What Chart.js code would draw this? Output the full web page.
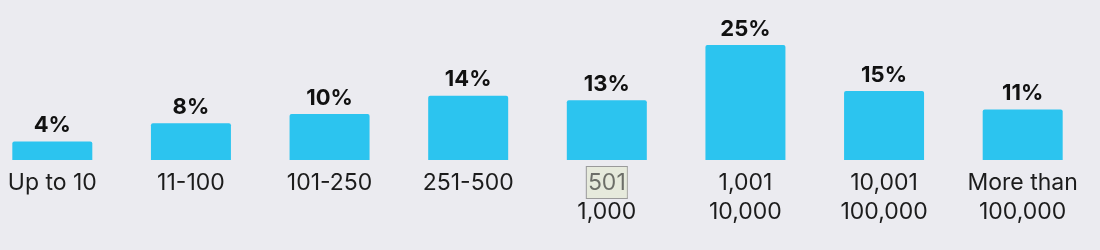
<!DOCTYPE html>
<html>
<head>
<meta charset="utf-8">
<script src="https://cdn.jsdelivr.net/npm/chart.js@4.4.1/dist/chart.umd.min.js"></script>
<style>
    html, body {
        margin: 0;
        padding: 0;
        background: #ebebf0;
        overflow: hidden;
    }
    #wrap {
        position: absolute;
        left: -17px;
        top: 0;
        width: 1126px;
        height: 250px;
    }
</style>
</head>
<body>
<div id="wrap"><canvas id="barChart"></canvas></div>
<script>

// =====================================
// DATA
// =====================================

const categories = [
    ["Up to 10"],
    ["11-100"],
    ["101-250"],
    ["251-500"],
    ["501", "1,000"],
    ["1,001", "10,000"],
    ["10,001", "100,000"],
    ["More than", "100,000"]
];

const shares = [4, 8, 10, 14, 13, 25, 15, 11];

// =====================================
// PLUGINS
// =====================================

// percent labels above the bars
const valueLabels = {
    id: "valueLabels",
    afterDatasetsDraw(chart) {
        const ctx = chart.ctx;
        const meta = chart.getDatasetMeta(0);
        ctx.save();
        ctx.font = "bold 22px Inter";
        ctx.fillStyle = "#111111";
        ctx.textAlign = "center";
        ctx.textBaseline = "bottom";
        meta.data.forEach((bar, i) => {
            ctx.fillText(shares[i] + "%", bar.x, bar.y - 5);
        });
        ctx.restore();
    }
};

// selection-like box behind "501"
const highlightBox = {
    id: "highlightBox",
    beforeDraw(chart) {
        const ctx = chart.ctx;
        const x = chart.scales.x.getPixelForValue(4);
        ctx.save();
        ctx.fillStyle = "#e6eadc";
        ctx.strokeStyle = "#9a9a9a";
        ctx.lineWidth = 1;
        ctx.fillRect(x - 20, 166.5, 41, 32);
        ctx.strokeRect(x - 20.5, 166.5, 41, 32);
        ctx.restore();
    },
    afterDraw(chart) {
        const ctx = chart.ctx;
        const x = chart.scales.x.getPixelForValue(4);
        ctx.save();
        ctx.fillStyle = "rgba(230,234,220,0.4)";
        ctx.fillRect(x - 19.5, 167.5, 40, 30);
        ctx.restore();
    }
};

// =====================================
// BAR CHART
// =====================================

new Chart(document.getElementById("barChart"), {

    type: "bar",

    data: {
        labels: categories,
        datasets: [{
            data: shares,
            backgroundColor: "#2cc4ef",
            borderRadius: 2,
            borderSkipped: "bottom",
            barPercentage: 0.577,
            categoryPercentage: 1
        }]
    },

    options: {
        responsive: true,
        maintainAspectRatio: false,
        animation: false,
        layout: {
            padding: { left: 0, right: 17, top: 0, bottom: 0 }
        },
        plugins: {
            legend: { display: false },
            tooltip: { enabled: false }
        },
        scales: {
            x: {
                grid: { display: false, drawTicks: false },
                border: { display: false },
                ticks: {
                    color: "#1c1c1c",
                    padding: 9,
                    maxRotation: 0,
                    autoSkip: false,
                    font: { family: "Inter", size: 23, lineHeight: 1.26 }
                },
                afterFit(scale) {
                    scale.height = 90;
                }
            },
            y: {
                display: false,
                min: 0,
                max: 34.8
            }
        }
    },

    plugins: [valueLabels, highlightBox]
});

</script>
</body>
</html>
